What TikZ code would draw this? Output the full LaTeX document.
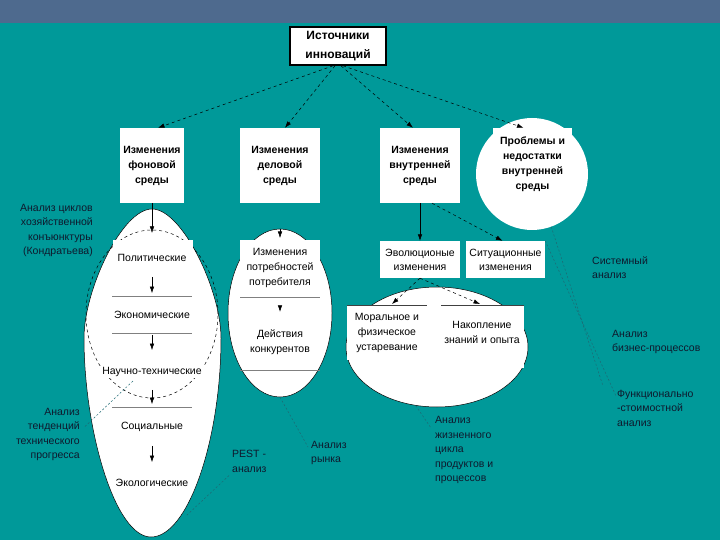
\documentclass[tikz,border=0pt]{standalone}
\usepackage{fontspec}
\setmainfont{Liberation Sans}
\usetikzlibrary{arrows.meta,shapes.geometric}
\definecolor{bgteal}{RGB}{0,153,153}
\definecolor{band}{RGB}{78,106,142}
\definecolor{lbl}{RGB}{15,25,45}
\definecolor{dotc}{RGB}{30,105,115}
\begin{document}
\begin{tikzpicture}[x=1pt,y=-1pt,
  bx/.style={fill=white, inner sep=0pt, align=center, font=\bfseries\fontsize{10.5}{15}\selectfont},
  topbox/.style={draw=black, line width=1.6pt, fill=white, inner sep=0pt, align=center, minimum width=96, minimum height=38, font=\bfseries\fontsize{12}{19}\selectfont},
  tx/.style={inner sep=1pt, align=center, font=\fontsize{10.5}{15}\selectfont},
  tb/.style={fill=white, inner sep=0pt, align=center, font=\fontsize{10.5}{14}\selectfont},
  lab/.style={inner sep=0pt, text=lbl, font=\fontsize{10.5}{14.5}\selectfont},
  arr/.style={-{Latex[length=6.5pt,width=4.5pt]}, black, line width=0.5pt},
  darr/.style={arr, dashed},
  dl/.style={dotc, line width=0.5pt, dash pattern=on 2pt off 2pt},
  sepl/.style={gray, line width=0.6pt},
  shp/.style={draw=black, fill=white, line width=0.5pt}]
\useasboundingbox (0,0) rectangle (720,540);
\fill[bgteal] (0,0) rectangle (720,540);
\fill[band] (0,0) rectangle (720,23);

% top
\node[topbox] (src) at (338,46) {Источники\\инноваций};

% second row
\node[bx, minimum width=64, minimum height=75] (fon) at (152,165.5) {Изменения\\фоновой\\среды};
\node[bx, minimum width=80, minimum height=75] (del) at (280,165.5) {Изменения\\деловой\\среды};
\node[bx, minimum width=80, minimum height=75] (vnu) at (420,165.5) {Изменения\\внутренней\\среды};
\node[circle, fill=white, minimum size=112, inner sep=0pt] (probc) at (532,174) {};
\node[bx, minimum width=79, minimum height=72] (prob) at (532.5,164) {Проблемы и\\недостатки\\внутренней\\среды};

\draw[darr] ([xshift=-5]src.south) -- ([xshift=6]fon.north);
\draw[darr] ([xshift=-3]src.south) -- ([xshift=5]del.north);
\draw[darr] ([xshift=3]src.south) -- ([xshift=-7]vnu.north);
\draw[darr] ([xshift=5]src.south) -- ([xshift=-9]prob.north);

% left egg
\draw[shp] (152,209) .. controls (182,209) and (221,290) .. (221,338)
  .. controls (221,440) and (188,537) .. (151,537)
  .. controls (115,537) and (84,430) .. (84,338)
  .. controls (84,290) and (122,209) .. (152,209);
\draw[dashed, line width=0.5pt] (152,314) ellipse [x radius=66pt, y radius=84pt];
\fill[white] (113,240) rectangle (193,296);
\draw[sepl] (112,296) -- (192,296);
\draw[sepl] (112,333) -- (192,333);
\draw[sepl] (112,407) -- (192,407);
\node[tx] (pol) at (152,258) {Политические};
\node[tx] (eco) at (152,315) {Экономические};
\node[tx, fill=white, inner xsep=3pt] (nt) at (152,372) {Научно-технические};
\node[tx] (soc) at (152,427) {Социальные};
\node[tx] (eko) at (152,483) {Экологические};
\coordinate (egtop) at (152,233);
\draw[arr] (fon.south) -- (egtop);
\draw[arr, shorten <=14pt, shorten >=17pt] (pol) -- (eco);
\draw[arr, shorten <=15pt, shorten >=16pt] (eco) -- (nt);
\draw[arr, shorten <=12pt, shorten >=17pt] (nt) -- (soc);
\draw[arr, shorten <=13pt, shorten >=16pt] (soc) -- (eko);

% middle ellipse
\node[ellipse, shp, minimum width=104, minimum height=168, inner sep=0pt] (mell) at (280,313) {};
\fill[white] (240,240) rectangle (320,297);
\draw[sepl] (240,297) -- (320,297);
\draw[sepl] (240,370) -- (320,370);
\node[tx] (need) at (280,268) {Изменения\\потребностей\\потребителя};
\node[tx] (comp) at (280,342.5) {Действия\\конкурентов};
\coordinate (deltop) at (280,238);
\draw[arr, shorten <=26pt] (del.south) -- (deltop);
\draw[arr, shorten <=18pt, shorten >=17pt] (need) -- (comp);

% right ellipse
\node[ellipse, shp, minimum width=182, minimum height=120, inner sep=0pt] (rell) at (437,347) {};
\fill[white] (347,305) rectangle (427,360);
\fill[white] (441,305) rectangle (524,368);
\draw[darkgray, line width=0.6pt] (347,305) -- (427,305);
\draw[darkgray, line width=0.6pt] (441,305) -- (524,305);
\node[tx] (mor) at (387,333) {Моральное и\\физическое\\устаревание};
\node[tx] (nak) at (482,332.5) {Накопление\\знаний и опыта};

\node[tb, minimum width=80, minimum height=37] (evo) at (420,259.5) {Эволюционые\\изменения};
\node[tb, minimum width=79, minimum height=37] (sit) at (505.5,259.5) {Ситуационные\\изменения};
\draw[arr] (vnu.south) -- (evo.north);
\draw[darr] ([xshift=12]vnu.south) -- ([xshift=-3]sit.north);
\coordinate (morin) at (392,304);
\coordinate (nakin) at (480,304);
\draw[darr] (evo.south) -- (morin);
\draw[darr] (evo.south) -- (nakin);

% labels
\node[lab, align=right, anchor=east] (kond) at (93,230.5) {Анализ циклов\\хозяйственной\\конъюнктуры\\(Кондратьева)};
\node[lab, align=right, anchor=east] (tend) at (80,434.5) {Анализ\\тенденций\\технического\\прогресса};
\node[lab, align=left, anchor=west] (pest) at (232,461.5) {PEST -\\анализ};
\node[lab, align=left, anchor=west] (ryn) at (311,453) {Анализ\\рынка};
\node[lab, align=left, anchor=west] (zhc) at (435,450) {Анализ\\жизненного\\цикла\\продуктов и\\процессов};
\node[lab, align=left, anchor=west] (sys) at (592,267.5) {Системный\\анализ};
\node[lab, align=left, anchor=west] (biz) at (612,342) {Анализ\\бизнес-процессов};
\node[lab, align=left, anchor=west] (fsa) at (617,408) {Функционально\\-стоимостной\\анализ};

% dotted analysis lines
\coordinate (ntp) at (134,380);
\draw[dl] ([xshift=5pt,yshift=8pt]tend.east) -- (ntp);
\coordinate (ekp) at (186,516);
\draw[dl] ([xshift=-3pt,yshift=-14pt]pest.west) -- (ekp);
\draw[dl] (mell.south) -- ([xshift=-3pt,yshift=6pt]ryn.west);
\draw[dl] (rell.250) -- ([xshift=-4pt,yshift=22pt]zhc.west);
\draw[dl] (probc.290) -- ([xshift=-14pt,yshift=22pt]fsa.west);
\draw[dl] (sit.north east) -- ([xshift=-1pt,yshift=12pt]fsa.west);
\end{tikzpicture}
\end{document}
